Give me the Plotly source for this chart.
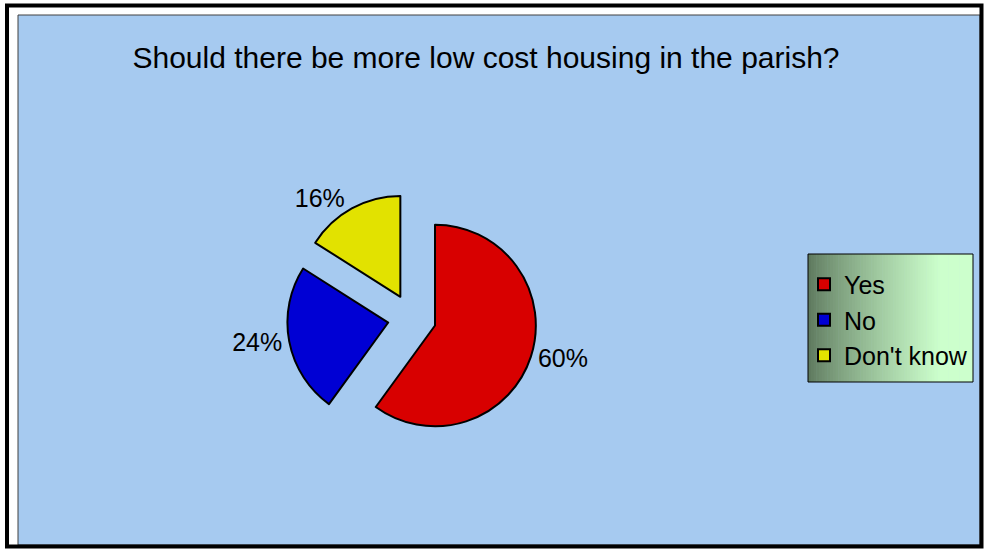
import plotly.graph_objects as go

# ---- data ----
categories = ["Yes", "No", "Don't know"]
values = [60, 24, 16]
slice_colors = ["#D80000", "#0000D4", "#E2E200"]
title_text = "Should there be more low cost housing in the parish?"

W, H = 984, 556
FONT = "Liberation Sans, Arial, sans-serif"


def X(px):
    return px / W


def Y(py):
    return 1 - py / H


fig = go.Figure()

# pie: centre ~(412,318), radius ~101, pull 0.24 -> domain box 250px
cx, cy, box = 412, 318, 250
fig.add_trace(go.Pie(
    labels=categories,
    values=values,
    sort=False,
    direction="clockwise",
    rotation=0,
    pull=[0.24, 0.24, 0.24],
    marker=dict(colors=slice_colors, line=dict(color="black", width=2)),
    textinfo="percent",
    textposition="outside",
    textfont=dict(family=FONT, size=25, color="black"),
    domain=dict(x=[X(cx - box / 2), X(cx + box / 2)],
                y=[Y(cy + box / 2), Y(cy - box / 2)]),
    hoverinfo="skip",
    showlegend=True,
))

shapes = []
# plot area (light blue)
shapes.append(dict(type="rect", xref="paper", yref="paper", layer="below",
                   x0=X(18), x1=X(980), y0=Y(545), y1=Y(15),
                   fillcolor="#A6CAF0", line=dict(color="#404040", width=1)))

# legend box with horizontal gradient
lx0, lx1, ly0, ly1 = 808, 973, 254, 382
n = 60
c0 = (92, 118, 92)
c1 = (204, 255, 204)
for i in range(n):
    t = (i + 0.5) / n
    f = min(1.0, t / 0.8) ** 0.8
    col = tuple(int(round(c0[k] + (c1[k] - c0[k]) * f)) for k in range(3))
    xa = lx0 + (lx1 - lx0) * i / n
    xb = lx0 + (lx1 - lx0) * (i + 1) / n + 0.6
    shapes.append(dict(type="rect", xref="paper", yref="paper", layer="below",
                       x0=X(xa), x1=X(min(xb, lx1)), y0=Y(ly1), y1=Y(ly0),
                       fillcolor="rgb(%d,%d,%d)" % col, line=dict(width=0)))
shapes.append(dict(type="rect", xref="paper", yref="paper", layer="below",
                   x0=X(lx0), x1=X(lx1), y0=Y(ly1), y1=Y(ly0),
                   fillcolor="rgba(0,0,0,0)", line=dict(color="black", width=1)))

# outer black frame
shapes.append(dict(type="rect", xref="paper", yref="paper", layer="above",
                   x0=X(7), x1=X(981.5), y0=Y(546.5), y1=Y(5.5),
                   fillcolor="rgba(0,0,0,0)", line=dict(color="black", width=4)))

fig.update_layout(
    width=W, height=H,
    margin=dict(l=0, r=0, t=0, b=0),
    paper_bgcolor="white",
    plot_bgcolor="white",
    shapes=shapes,
    title=dict(text=title_text, x=X(486), y=Y(57), xanchor="center", yanchor="middle",
               font=dict(family=FONT, size=30, color="black")),
    legend=dict(x=X(804), y=Y(320), xanchor="left", yanchor="middle",
                bgcolor="rgba(0,0,0,0)", borderwidth=0,
                font=dict(family=FONT, size=25, color="black")),
    font=dict(family=FONT),
)

fig.write_html("out.html",
               config={"displayModeBar": False},
               post_script="document.body.style.margin='0';document.body.style.overflow='hidden';")
